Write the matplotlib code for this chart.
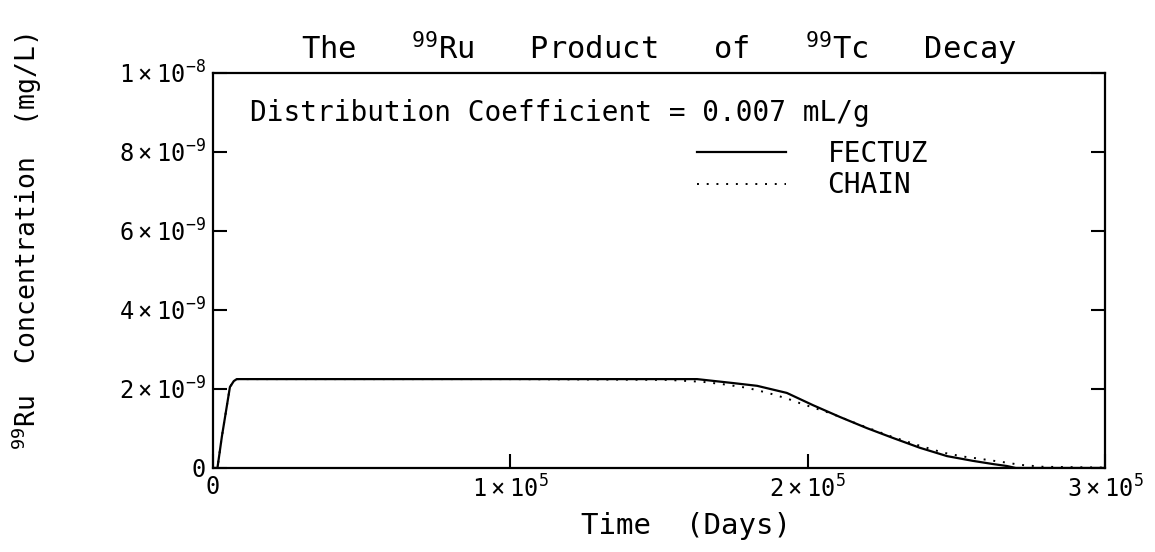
import numpy as np
import matplotlib.pyplot as plt

# FECTUZ curve (days, mg/L)
fectuz_t = [0, 1500, 3000, 5700, 7000, 8000, 100000, 162800, 174900, 183000,
            193000, 201800, 210900, 219900, 228700, 237800, 246900, 255600,
            262300, 267000, 270000, 300000]
fectuz_c = [0, 0, 0.8e-9, 2.05e-9, 2.2e-9, 2.25e-9, 2.25e-9, 2.25e-9, 2.15e-9,
            2.08e-9, 1.90e-9, 1.59e-9, 1.29e-9, 1.01e-9, 0.76e-9, 0.51e-9,
            0.30e-9, 0.18e-9, 0.10e-9, 0.05e-9, 0.0, 0.0]

# CHAIN curve
chain_t = [0, 1500, 3000, 5700, 7000, 8000, 100000, 153000, 164800, 171600,
           179600, 186700, 193400, 197400, 207500, 218000, 228000, 237000,
           245500, 252200, 256300, 267400, 271400, 279200, 290000, 300000]
chain_c = [0, 0, 0.8e-9, 2.05e-9, 2.2e-9, 2.25e-9, 2.25e-9, 2.23e-9, 2.18e-9,
           2.12e-9, 2.03e-9, 1.90e-9, 1.75e-9, 1.64e-9, 1.39e-9, 1.08e-9,
           0.80e-9, 0.58e-9, 0.39e-9, 0.29e-9, 0.25e-9, 0.13e-9, 0.08e-9,
           0.03e-9, 0.02e-9, 0.01e-9]

xticks = [0, 1e5, 2e5, 3e5]
xlabels = ['0', r'$\mathregular{1\times10^5}$', r'$\mathregular{2\times10^5}$',
           r'$\mathregular{3\times10^5}$']
yticks = [0, 2e-9, 4e-9, 6e-9, 8e-9, 1e-8]
ylabels = ['0', r'$\mathregular{2\times10^{-9}}$', r'$\mathregular{4\times10^{-9}}$',
           r'$\mathregular{6\times10^{-9}}$', r'$\mathregular{8\times10^{-9}}$',
           r'$\mathregular{1\times10^{-8}}$']

plt.rcParams['font.family'] = ['DejaVu Sans Mono', 'DejaVu Sans']
plt.rcParams['mathtext.fontset'] = 'dejavusans'

fig = plt.figure(figsize=(11.55, 5.52), dpi=100)
ax = fig.add_axes([0.1844, 0.1522, 0.7723, 0.7156])

ax.plot(fectuz_t, fectuz_c, color='black', lw=1.6, label='FECTUZ')
ax.plot(chain_t, chain_c, color='black', lw=1.4, ls=(0, (1, 4)), label='CHAIN')

ax.set_xlim(0, 3e5)
ax.set_ylim(0, 1e-8)
ax.set_xticks(xticks)
ax.set_xticklabels(xlabels, fontsize=17)
ax.set_yticks(yticks)
ax.set_yticklabels(ylabels, fontsize=17)
ax.tick_params(axis='both', direction='in', length=10, width=1.5, pad=5)
ax.tick_params(axis='y', right=True)
for s in ax.spines.values():
    s.set_linewidth(1.6)

ax.set_xlabel('Time  (Days)', fontsize=21)
ax.xaxis.set_label_coords(0.53, -0.112)
ax.set_ylabel(r'$\mathregular{^{99}}$Ru  Concentration  (mg/L)', fontsize=19)
ax.yaxis.set_label_coords(-0.19, 0.572)
ax.set_title(r'The   $\mathregular{^{99}}$Ru   Product   of   $\mathregular{^{99}}$Tc   Decay',
             fontsize=22, pad=10)

ax.text(0.0415, 0.899, 'Distribution Coefficient = 0.007 mL/g',
        transform=ax.transAxes, fontsize=20, va='center')

ax.legend(loc='upper left', bbox_to_anchor=(0.5426, 0.83), frameon=False,
          fontsize=20, handlelength=3.2, handletextpad=1.5, labelspacing=0.12,
          borderaxespad=0, borderpad=0)

fig.savefig('out.png', dpi=100)
